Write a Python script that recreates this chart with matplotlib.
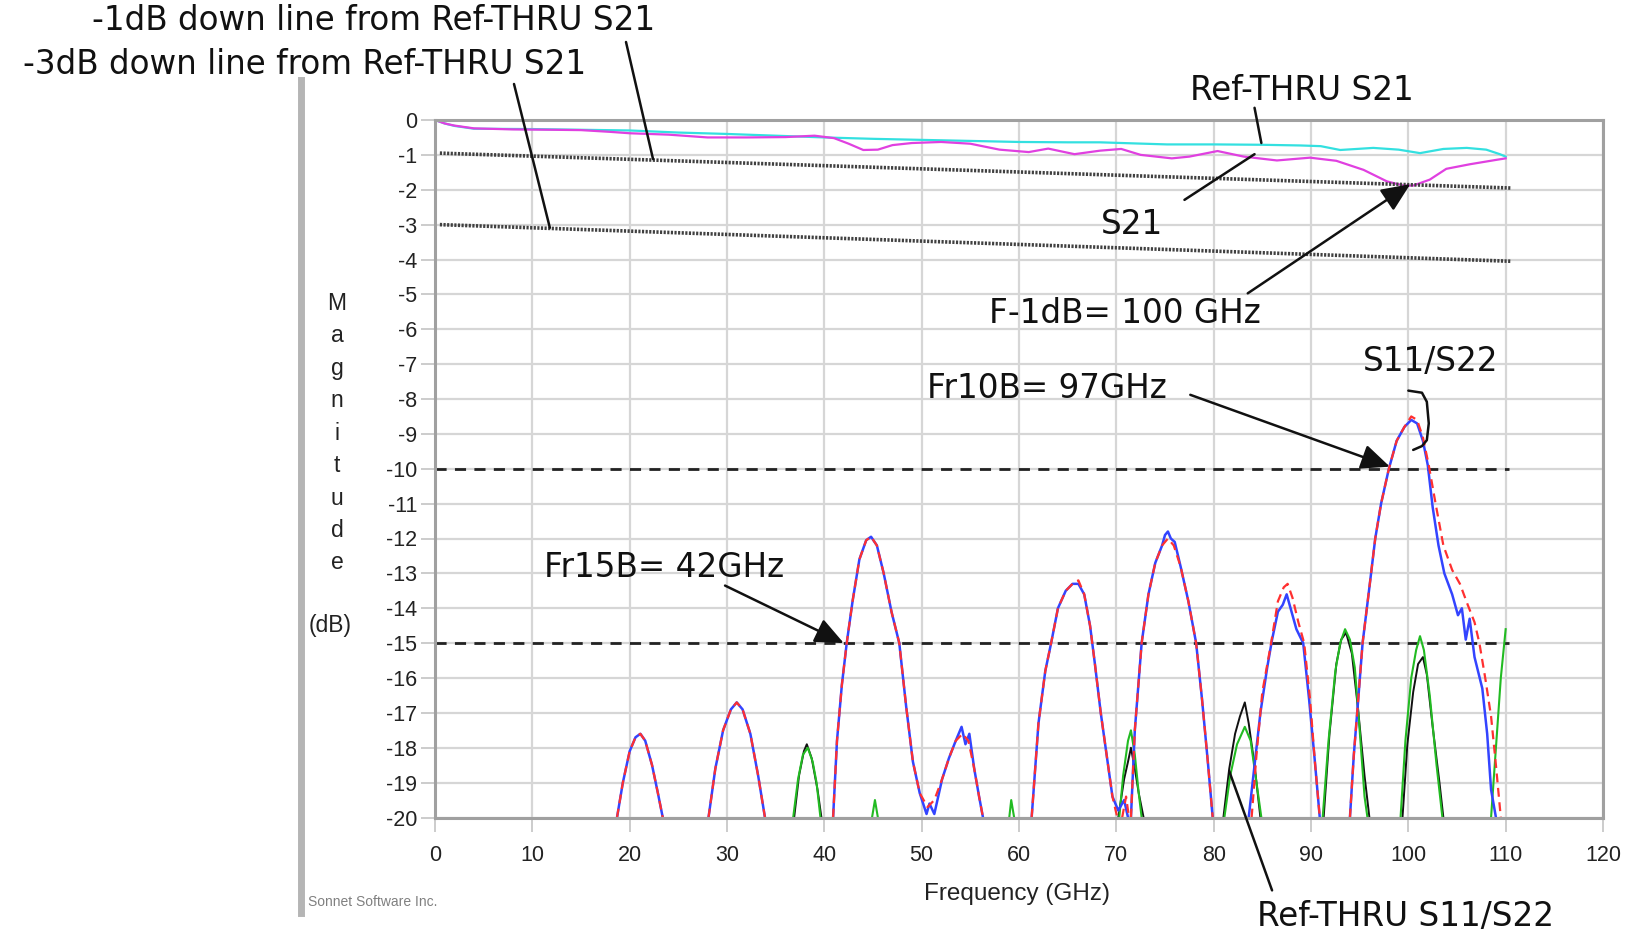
import numpy as np
import matplotlib
matplotlib.use('Agg')
from matplotlib import pyplot as plt
from matplotlib.lines import Line2D

plt.rcParams['axes.unicode_minus'] = False
nan = np.nan

# Ref-THRU S21 (cyan) and DUT S21 (magenta), dB vs GHz
ref_s21_f = [0, 1, 2, 4, 10, 15, 20, 25, 30, 35, 40, 45, 50, 55, 60, 65, 68.3, 71.7, 75.2, 80.1,
             84.8, 88.9, 91, 93, 96.4, 99, 101.2, 103.6, 106, 108, 109.4, 110]
ref_s21_db = [0, -0.1, -0.17, -0.25, -0.26, -0.28, -0.3, -0.36, -0.4, -0.45, -0.5, -0.54, -0.57, -0.6,
              -0.63, -0.64, -0.64, -0.67, -0.7, -0.7, -0.71, -0.73, -0.75, -0.86, -0.8, -0.85, -0.95,
              -0.83, -0.8, -0.85, -0.98, -1.05]
s21_f = [0, 1, 2, 4, 8, 12, 15, 18, 20, 24, 28, 32, 36, 39, 41, 42.5, 44, 45.5, 47, 49, 52, 55, 58, 61,
         63, 65.7, 68.3, 70.5, 72.5, 75.7, 77.5, 80.4, 83.1, 86.5, 89.9, 92.6, 95.4, 97.8, 99.5, 100.5,
         102.2, 103.9, 106.3, 109.1, 110]
s21_db = [0, -0.1, -0.16, -0.24, -0.27, -0.28, -0.29, -0.34, -0.38, -0.42, -0.5, -0.5, -0.49, -0.45,
          -0.52, -0.68, -0.86, -0.85, -0.72, -0.66, -0.63, -0.68, -0.85, -0.92, -0.82, -0.98, -0.88,
          -0.83, -1.0, -1.1, -1.05, -0.89, -1.05, -1.16, -1.08, -1.17, -1.43, -1.76, -1.88, -1.88,
          -1.71, -1.4, -1.27, -1.14, -1.1]

# -1dB / -3dB down lines from Ref-THRU S21
down_f = [0.5, 110.5]
down1_db = [-0.95, -1.95]
down3_db = [-3.0, -4.05]
thresh_f = [0, 110.3]

# DUT S11 (red) / S22 (blue), lobes separated by nan
s11_f = [18.7, 19.3, 20.0, 20.6, 21.1, 21.6, 22.3, 22.9, 23.4, nan,
         28.1, 28.8, 29.6, 30.4, 31.0, 31.6, 32.4, 33.2, 33.9, nan,
         40.9, 41.3, 41.8, 42.3, 42.9, 43.6, 44.3, 44.8, 45.4, 46.1, 46.9, 47.7, 48.4, 49.1, 49.8,
         50.6, 51.3, 52.1, 52.8, 53.5, 54.2, 54.8, 55.4, 55.9, 56.3, nan,
         61.3, 62.0, 62.7, 63.3, 64.0, 64.8, 65.5, 66.1, 66.7, 67.3, 67.8, 68.4, 69.0, 69.6, 70.1, nan,
         70.6, 71.0, 71.3, nan,
         71.5, 71.9, 72.6, 73.3, 74.0, 74.7, 75.3, 75.9, 76.6, 77.4, 78.2, 78.8, 79.4, 79.9, nan,
         83.9, 84.4, 85.0, 85.9, 86.6, 87.2, 87.6, 88.1, 88.7, 89.3, 89.9, 90.4, 90.9, nan,
         94.0, 94.4, 94.8, 95.3, 96.0, 96.6, 97.2, 98.0, 98.8, 99.6, 100.3, 100.9, 101.5, 102.1,
         102.8, 103.6, 104.5, 105.3, 106.1, 106.8, 107.3, 107.9, 108.5, 109.0, 109.5]
s11_db = [-20, -19.0, -18.1, -17.7, -17.6, -17.8, -18.5, -19.3, -20, nan,
          -20, -18.6, -17.5, -16.9, -16.7, -16.9, -17.6, -18.8, -20, nan,
          -20, -17.8, -16.2, -15.0, -13.8, -12.6, -12.05, -11.95, -12.2, -13.0, -14.1, -15.0, -16.8,
          -18.4, -19.3, -19.7, -19.5, -18.9, -18.3, -17.8, -17.6, -17.8, -18.6, -19.4, -20, nan,
          -20, -17.3, -15.8, -15.0, -14.0, -13.5, -13.3, -13.2, -13.6, -14.5, -15.6, -17.0, -18.2,
          -19.4, -20, nan,
          -20, -19.4, -20, nan,
          -20, -17.5, -15.0, -13.6, -12.7, -12.2, -12.0, -12.2, -12.8, -13.8, -15.0, -16.6, -18.4, -20, nan,
          -20, -18.2, -16.4, -15.0, -13.8, -13.4, -13.3, -13.7, -14.4, -15.0, -16.6, -18.4, -20, nan,
          -20, -18.2, -16.8, -15.0, -13.4, -12.0, -11.0, -10.0, -9.2, -8.8, -8.5, -8.6, -9.1, -9.9,
          -11.0, -12.2, -12.9, -13.3, -13.9, -14.4, -15.0, -16.0, -17.1, -18.5, -20]
s22_f = [18.7, 19.3, 20.0, 20.6, 21.1, 21.6, 22.3, 22.9, 23.4, nan,
         28.1, 28.8, 29.6, 30.4, 31.0, 31.6, 32.4, 33.2, 33.9, nan,
         40.9, 41.3, 41.8, 42.3, 42.9, 43.6, 44.3, 44.8, 45.4, 46.1, 46.9, 47.7, 48.4, 49.1, 49.8,
         50.5, 50.8, 51.3, 52.1, 52.8, 53.5, 54.1, 54.5, 54.9, 55.4, 55.9, 56.3, nan,
         61.3, 62.0, 62.7, 63.3, 64.0, 64.8, 65.5, 66.1, 66.7, 67.3, 67.8, 68.4, 69.0, 69.6, 70.2, 70.8,
         71.2, nan,
         71.5, 71.9, 72.6, 73.3, 74.0, 74.7, 75.0, 75.3, 75.6, 76.0, 76.6, 77.4, 78.2, 78.8, 79.4, 79.9, nan,
         83.6, 84.2, 84.8, 85.5, 86.0, 86.6, 87.1, 87.5, 87.9, 88.5, 89.2, 89.8, 90.4, 90.9, nan,
         94.0, 94.4, 94.8, 95.3, 96.0, 96.6, 97.2, 98.0, 98.8, 99.6, 100.3, 100.9, 101.5, 102.0,
         102.5, 103.1, 103.7, 104.5, 105.1, 105.5, 105.9, 106.3, 106.8, 107.6, 108.1, 108.5, 109.0]
s22_db = [-20, -19.0, -18.1, -17.7, -17.6, -17.8, -18.5, -19.3, -20, nan,
          -20, -18.6, -17.5, -16.9, -16.7, -16.9, -17.6, -18.8, -20, nan,
          -20, -17.8, -16.2, -15.0, -13.8, -12.6, -12.05, -11.95, -12.2, -13.0, -14.1, -15.0, -16.8,
          -18.4, -19.3, -19.9, -19.6, -19.9, -18.9, -18.3, -17.8, -17.4, -17.9, -17.6, -18.6, -19.4, -20, nan,
          -20, -17.3, -15.8, -15.0, -14.0, -13.5, -13.3, -13.3, -13.6, -14.5, -15.6, -17.0, -18.2,
          -19.4, -19.8, -19.5, -20, nan,
          -20, -17.5, -15.0, -13.6, -12.7, -12.2, -11.9, -11.8, -12.0, -12.1, -12.8, -13.8, -15.0, -16.6,
          -18.4, -20, nan,
          -20, -18.5, -17.0, -15.7, -14.9, -14.1, -13.9, -13.6, -14.0, -14.6, -15.0, -16.6, -18.4, -20, nan,
          -20, -18.2, -16.8, -15.0, -13.4, -12.0, -11.0, -10.0, -9.2, -8.8, -8.6, -8.7, -9.2, -9.9,
          -11.1, -12.2, -13.0, -13.6, -14.2, -14.0, -14.9, -14.3, -15.4, -16.3, -17.6, -19.2, -20]

# Ref-THRU S11 (green) / S22 (black)
ref_s11_f = [36.8, 37.3, 37.8, 38.3, 38.8, 39.2, 39.6, nan, 44.9, 45.2, 45.5, nan, 59.0, 59.2, 59.5, nan,
             70.3, 70.7, 71.2, 71.5, 71.9, 72.3, 72.6, nan,
             81.1, 81.7, 82.4, 83.2, 83.8, 84.4, 84.9, nan,
             91.2, 91.8, 92.5, 93.0, 93.5, 94.0, 94.5, 95.0, 95.5, 95.8, nan,
             99.2, 99.7, 100.3, 100.8, 101.2, 101.6, 102.2, 102.9, 103.5, nan,
             108.5, 109.0, 109.5, 110.0]
ref_s11_db = [-20, -18.9, -18.2, -18.0, -18.4, -19.0, -20, nan, -20, -19.5, -20, nan, -20, -19.5, -20, nan,
              -20, -18.8, -17.8, -17.5, -18.2, -19.3, -20, nan,
              -20, -18.8, -17.9, -17.4, -17.8, -19.0, -20, nan,
              -20, -17.8, -15.8, -15.0, -14.6, -14.9, -15.7, -17.5, -19.4, -20, nan,
              -20, -17.8, -16.0, -15.2, -14.8, -15.2, -16.5, -18.5, -20, nan,
              -20, -18.0, -16.0, -14.6]
ref_s22_f = [36.9, 37.4, 37.9, 38.2, 38.7, 39.3, 39.7, nan,
             70.2, 70.8, 71.2, 71.5, 71.9, 72.3, 72.8, nan,
             81.0, 81.6, 82.2, 82.7, 83.2, 83.6, 84.2, 84.8, nan,
             91.3, 91.9, 92.6, 93.1, 93.6, 94.2, 94.8, 95.5, 96.0, nan,
             99.4, 99.9, 100.5, 101.0, 101.5, 101.9, 102.5, 103.2, 103.6]
ref_s22_db = [-20, -18.8, -18.1, -17.9, -18.3, -19.2, -20, nan,
              -20, -18.9, -18.4, -18.0, -18.6, -19.3, -20, nan,
              -20, -18.6, -17.6, -17.1, -16.7, -17.3, -18.5, -20, nan,
              -20, -17.6, -15.6, -14.9, -14.7, -15.3, -16.8, -18.8, -20, nan,
              -20, -17.9, -16.4, -15.6, -15.4, -15.9, -17.4, -19.0, -20]

bracket_f = [100.0, 101.4, 101.9, 102.1, 101.9, 101.4, 100.5]
bracket_db = [-7.76, -7.82, -8.08, -8.7, -9.18, -9.35, -9.46]

W, H = 1637, 933
fig = plt.figure(figsize=(W / 100, H / 100), dpi=100)
ax = fig.add_axes([435 / W, 1 - 817.5 / H, 1168 / W, 697.5 / H])

tick_font = 'Liberation Sans'
note_font = 'DejaVu Sans'
note_size = 23.5

ax.set_xlim(0, 120)
ax.set_ylim(-20, 0)
ax.set_xticks(range(0, 121, 10))
ax.set_yticks(range(0, -21, -1))
ax.grid(True, color='#d6d6d6', lw=1.6)
ax.set_axisbelow(True)
for sp in ax.spines.values():
    sp.set_color('#a0a0a0')
    sp.set_linewidth(2.2)
ax.tick_params(length=10, width=1.4, color='#cccccc', labelsize=15.5, labelcolor='#222222')
ax.tick_params(axis='x', pad=10)
ax.tick_params(axis='y', pad=3)
for lab in ax.get_xticklabels() + ax.get_yticklabels():
    lab.set_family(tick_font)

# traces
ax.plot(ref_s21_f, ref_s21_db, color='#33e0e0', lw=1.6)
ax.plot(s21_f, s21_db, color='#e040e0', lw=1.6)
ax.plot(down_f, down1_db, color='#404040', lw=2.6, ls=(0, (0.6, 0.4)))
ax.plot(down_f, down3_db, color='#404040', lw=2.6, ls=(0, (0.6, 0.4)))
ax.plot(thresh_f, [-10, -10], color='#222222', lw=2.0, ls=(0, (4, 3)))
ax.plot(thresh_f, [-15, -15], color='#222222', lw=2.0, ls=(0, (4, 3)))

ax.plot(ref_s22_f, ref_s22_db, color='#111111', lw=1.4)
ax.plot(ref_s11_f, ref_s11_db, color='#22bb22', lw=1.5)
ax.plot(s22_f, s22_db, color='#3344ff', lw=1.8)
ax.plot(s11_f, s11_db, color='#ff3030', lw=1.6, ls=(0, (4, 2.5)))

ax.plot(bracket_f, bracket_db, color='#111111', lw=1.8, solid_capstyle='round')

# annotations
lead = dict(arrowstyle='-', color='#111111', lw=1.8, shrinkA=0, shrinkB=0)
arrow = dict(arrowstyle='-|>,head_length=0.8,head_width=0.35', color='#111111', lw=1.8,
             mutation_scale=22, shrinkA=0, shrinkB=0)
note = dict(fontsize=note_size, family=note_font, color='#111111', ha='center', va='center')

fig.text(374 / W, 1 - 21 / H, '-1dB down line from Ref-THRU S21', **note)
fig.text(305 / W, 1 - 65 / H, '-3dB down line from Ref-THRU S21', **note)
ax.annotate('', xy=(22.4, -1.12), xytext=(626 / W, 1 - 42 / H), textcoords='figure fraction',
            arrowprops=lead, annotation_clip=False)
ax.annotate('', xy=(11.8, -3.09), xytext=(514 / W, 1 - 84 / H), textcoords='figure fraction',
            arrowprops=lead, annotation_clip=False)

ax.text(89.1, 0.86, 'Ref-THRU S21', **note)
ax.annotate('', xy=(84.9, -0.66), xytext=(84.2, 0.35), arrowprops=lead, annotation_clip=False)

ax.text(71.6, -3.01, 'S21', **note)
ax.annotate('', xy=(84.2, -0.98), xytext=(77.0, -2.29), arrowprops=lead)

ax.text(70.9, -5.56, 'F-1dB= 100 GHz', **note)
ax.annotate('', xy=(100.2, -1.84), xytext=(83.5, -4.97), arrowprops=arrow)

ax.text(102.3, -6.93, 'S11/S22', **note)

ax.text(62.9, -7.7, 'Fr10B= 97GHz', **note)
ax.annotate('', xy=(98.1, -9.94), xytext=(77.6, -7.88), arrowprops=arrow)

ax.text(23.5, -12.83, 'Fr15B= 42GHz', **note)
ax.annotate('', xy=(42.0, -15.0), xytext=(29.8, -13.35), arrowprops=arrow)

ax.text(99.7, -22.83, 'Ref-THRU S11/S22', clip_on=False, **note)
ax.annotate('', xy=(81.6, -18.67), xytext=(86.0, -22.09), arrowprops=lead, annotation_clip=False)

# axis labels, Sonnet style
ytrans = ax.get_yaxis_transform()
for i, ch in enumerate('Magnitude'):
    ax.text(-0.084, -5.26 - i * 0.93, ch, transform=ytrans, fontsize=16.5, family=tick_font,
            color='#222222', ha='center', va='center')
ax.text(-0.090, -14.5, '(dB)', transform=ytrans, fontsize=16.5, family=tick_font,
        color='#222222', ha='center', va='center')
fig.text(1017 / W, 1 - 894 / H, 'Frequency (GHz)', fontsize=17.5, family=tick_font,
         color='#222222', ha='center', va='center')
fig.text(308 / W, 1 - 902 / H, 'Sonnet Software Inc.', fontsize=10, family=tick_font,
         color='#808080', ha='left', va='center')
fig.add_artist(Line2D([301 / W, 301 / W], [1 - 80 / H, 1 - 913 / H], transform=fig.transFigure,
                      color='#b5b5b5', lw=5.0))

fig.savefig('out.png', dpi=100)
